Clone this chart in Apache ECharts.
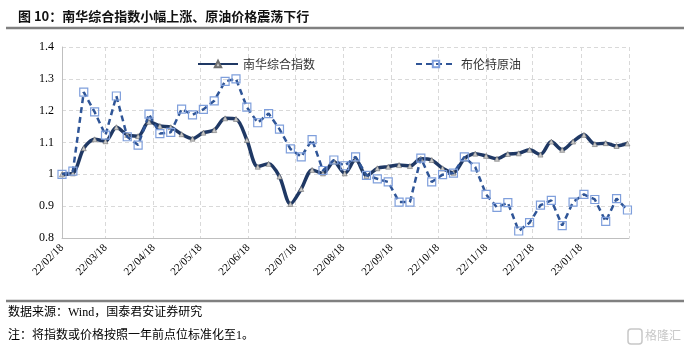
<!DOCTYPE html>
<html>
<head>
<meta charset="utf-8">
<script src="https://cdn.jsdelivr.net/npm/echarts@6/dist/echarts.min.js"></script>
<style>
  html, body { margin: 0; padding: 0; background: #fff; }
  #chart { width: 684px; height: 353px; }
</style>
</head>
<body>
<div id="chart"></div>
<script>
// weekly dates (Fridays)
var dates = [
  '2022-02-18','2022-02-25','2022-03-04','2022-03-11','2022-03-18','2022-03-25',
  '2022-04-01','2022-04-08','2022-04-15','2022-04-22','2022-04-29',
  '2022-05-06','2022-05-13','2022-05-20','2022-05-27',
  '2022-06-03','2022-06-10','2022-06-17','2022-06-24',
  '2022-07-01','2022-07-08','2022-07-15','2022-07-22','2022-07-29',
  '2022-08-05','2022-08-12','2022-08-19','2022-08-26',
  '2022-09-02','2022-09-09','2022-09-16','2022-09-23','2022-09-30',
  '2022-10-07','2022-10-14','2022-10-21','2022-10-28',
  '2022-11-04','2022-11-11','2022-11-18','2022-11-25',
  '2022-12-02','2022-12-09','2022-12-16','2022-12-23','2022-12-30',
  '2023-01-06','2023-01-13','2023-01-20','2023-01-27',
  '2023-02-03','2023-02-10','2023-02-17'
];
var nanhua = [
  1.000, 1.003, 1.082, 1.110, 1.104, 1.148, 1.124, 1.120, 1.165, 1.152,
  1.148, 1.126, 1.112, 1.131, 1.139, 1.176, 1.174, 1.108, 1.024, 1.033,
  0.993, 0.907, 0.954, 1.014, 1.003, 1.040, 1.003, 1.047, 0.995, 1.019,
  1.024, 1.029, 1.026, 1.049, 1.045, 1.019, 1.005, 1.049, 1.065, 1.058,
  1.049, 1.064, 1.066, 1.077, 1.062, 1.103, 1.077, 1.103, 1.124, 1.095,
  1.098, 1.089, 1.097
];
var brent = [
  1.000, 1.010, 1.258, 1.196, 1.123, 1.246, 1.118, 1.092, 1.189, 1.128,
  1.132, 1.205, 1.187, 1.204, 1.231, 1.292, 1.300, 1.211, 1.162, 1.191,
  1.142, 1.080, 1.055, 1.109, 1.012, 1.045, 1.027, 1.055, 0.997, 0.986,
  0.976, 0.913, 0.913, 1.051, 0.976, 0.999, 1.004, 1.055, 1.023, 0.937,
  0.896, 0.911, 0.822, 0.848, 0.903, 0.918, 0.839, 0.913, 0.937, 0.921,
  0.852, 0.924, 0.888
];
var monthTicks = [
  '2022-02-18','2022-03-18','2022-04-18','2022-05-18','2022-06-18','2022-07-18',
  '2022-08-18','2022-09-18','2022-10-18','2022-11-18','2022-12-18','2023-01-18',
  '2023-02-18'
];
var yTicks = [0.8, 0.9, 1.0, 1.1, 1.2, 1.3, 1.4];

// day offset from the first date (x axis is a plain value axis in days)
var DAY = 86400000;
function utc(s) {
  var p = s.split('-');
  return Date.UTC(+p[0], +p[1] - 1, +p[2]);
}
var t0 = utc(dates[0]);
function dayOf(s) { return Math.round((utc(s) - t0) / DAY); }
function pad(n) { return n < 10 ? '0' + n : '' + n; }

var tickVals = monthTicks.map(dayOf);
var labelVals = tickVals.slice(0, 12);

var chart = echarts.init(document.getElementById('chart'));
var option = {
  animation: false,
  backgroundColor: '#fff',
  title: {
    text: '图 10：南华综合指数小幅上涨、原油价格震荡下行',
    left: 13,
    top: 5,
    textStyle: {
      fontFamily: 'Noto Sans CJK SC',
      fontSize: 13,
      fontWeight: 'bold',
      color: '#111'
    }
  },
  legend: {
    left: 192,
    top: 53,
    itemWidth: 40,
    itemHeight: 8,
    itemGap: 100,
    textStyle: {
      fontFamily: 'Noto Sans CJK SC',
      fontSize: 12,
      color: '#333'
    },
    data: ['南华综合指数', '布伦特原油']
  },
  grid: {
    left: 62,
    right: 55,
    top: 47,
    bottom: 115
  },
  xAxis: {
    type: 'value',
    min: tickVals[0],
    max: tickVals[12],
    axisLine: { lineStyle: { color: '#bfbfbf', width: 1 } },
    axisTick: { show: false, customValues: tickVals },
    splitLine: {
      show: true,
      lineStyle: { color: '#d9d9d9', type: [4, 3], width: 1 }
    },
    axisLabel: {
      customValues: labelVals,
      rotate: 45,
      margin: 8,
      fontFamily: 'Liberation Serif',
      fontSize: 11,
      color: '#000',
      formatter: function (v) {
        var d = new Date(t0 + v * DAY);
        return pad(d.getUTCFullYear() % 100) + '/' + pad(d.getUTCMonth() + 1) + '/' + pad(d.getUTCDate());
      }
    }
  },
  yAxis: {
    type: 'value',
    min: yTicks[0],
    max: yTicks[yTicks.length - 1],
    interval: 0.1,
    axisLine: { show: true, lineStyle: { color: '#bfbfbf', width: 1 } },
    axisTick: { show: false },
    splitLine: {
      lineStyle: { color: '#d9d9d9', type: [4, 3], width: 1 }
    },
    axisLabel: {
      margin: 8,
      fontFamily: 'Liberation Serif',
      fontSize: 12,
      color: '#000',
      formatter: function (v) { return +v.toFixed(1) + ''; }
    }
  },
  series: [
    {
      name: '南华综合指数',
      type: 'line',
      smooth: 0.3,
      data: dates.map(function (d, i) { return [dayOf(d), nanhua[i]]; }),
      symbol: 'triangle',
      symbolSize: 5,
      showAllSymbol: true,
      lineStyle: { color: '#1f3864', width: 3.5 },
      itemStyle: { color: '#c8c8c8', borderColor: '#6f6f6f', borderWidth: 0.6 },
      z: 2
    },
    {
      name: '布伦特原油',
      type: 'line',
      data: dates.map(function (d, i) { return [dayOf(d), brent[i]]; }),
      symbol: 'rect',
      symbolSize: 8,
      showAllSymbol: true,
      lineStyle: { color: '#2f5597', width: 2.5, type: [6, 4] },
      itemStyle: { color: 'rgba(255,255,255,0)', borderColor: '#7f9fdc', borderWidth: 1.2 },
      z: 3
    }
  ],
  graphic: [
    {
      type: 'line',
      shape: { x1: 6, y1: 28, x2: 684, y2: 28 },
      style: { stroke: '#808080', lineWidth: 2.5 }
    },
    {
      type: 'line',
      shape: { x1: 6, y1: 301, x2: 684, y2: 301 },
      style: { stroke: '#808080', lineWidth: 2.5 }
    },
    {
      type: 'text',
      left: 8,
      top: 307,
      style: {
        text: '数据来源：Wind，国泰君安证券研究',
        fontFamily: 'Liberation Serif, Noto Sans CJK SC',
        fontSize: 12,
        fill: '#000'
      }
    },
    {
      type: 'text',
      left: 8,
      top: 330,
      style: {
        text: '注：将指数或价格按照一年前点位标准化至1。',
        fontFamily: 'Liberation Serif, Noto Sans CJK SC',
        fontSize: 12,
        fill: '#000'
      }
    },
    {
      type: 'rect',
      shape: { x: 628, y: 329, width: 14, height: 15, r: 3 },
      style: { fill: 'none', stroke: '#c8c8c8', lineWidth: 1.5 }
    },
    {
      type: 'text',
      left: 645,
      top: 329,
      style: {
        text: '格隆汇',
        fontFamily: 'Noto Sans CJK SC',
        fontSize: 12,
        fill: '#c8c8c8'
      }
    }
  ]
};
chart.setOption(option);
</script>
</body>
</html>
